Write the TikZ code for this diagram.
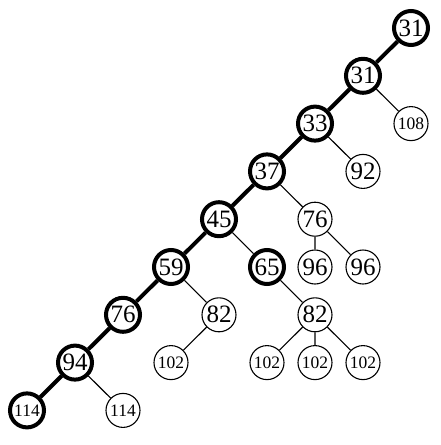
\documentclass[tikz,border=0pt]{standalone}
\usepackage{fontspec}
\setmainfont{Liberation Serif}
\begin{document}
\begin{tikzpicture}[x=1pt,y=-1pt,
  nd/.style={circle,draw,line width=1.1pt,minimum size=34pt,inner sep=0pt,font=\fontsize{25}{25}\selectfont},
  hv/.style={line width=4pt},
  sm/.style={font=\fontsize{17.5}{17.5}\selectfont},
  thin/.style={line width=1.1pt},
  thk/.style={line width=4pt}]
\useasboundingbox (0,0) rectangle (441,445);
\def\cx#1{27+48*#1}
\def\ry#1{28+47.8*#1}
\node[nd,hv] (a) at ({\cx{8}},{\ry{0}}) {31};
\node[nd,hv] (b) at ({\cx{7}},{\ry{1}}) {31};
\node[nd,sm] (c) at ({\cx{8}},{\ry{2}}) {108};
\node[nd,hv] (d) at ({\cx{6}},{\ry{2}}) {33};
\node[nd] (e) at ({\cx{7}},{\ry{3}}) {92};
\node[nd,hv] (f) at ({\cx{5}},{\ry{3}}) {37};
\node[nd] (g) at ({\cx{6}},{\ry{4}}) {76};
\node[nd,hv] (h) at ({\cx{4}},{\ry{4}}) {45};
\node[nd] (i) at ({\cx{6}},{\ry{5}}) {96};
\node[nd] (j) at ({\cx{7}},{\ry{5}}) {96};
\node[nd,hv] (k) at ({\cx{3}},{\ry{5}}) {59};
\node[nd,hv] (l) at ({\cx{5}},{\ry{5}}) {65};
\node[nd] (m) at ({\cx{4}},{\ry{6}}) {82};
\node[nd,hv] (n) at ({\cx{2}},{\ry{6}}) {76};
\node[nd] (o) at ({\cx{6}},{\ry{6}}) {82};
\node[nd,sm] (p) at ({\cx{3}},{\ry{7}}) {102};
\node[nd,hv] (q) at ({\cx{1}},{\ry{7}}) {94};
\node[nd,sm] (r) at ({\cx{5}},{\ry{7}}) {102};
\node[nd,sm] (s) at ({\cx{6}},{\ry{7}}) {102};
\node[nd,sm] (t) at ({\cx{7}},{\ry{7}}) {102};
\node[nd,hv,sm] (u) at ({\cx{0}},{\ry{8}}) {114};
\node[nd,sm] (v) at ({\cx{2}},{\ry{8}}) {114};
\draw[thk] (a)--(b) (b)--(d) (d)--(f) (f)--(h) (h)--(k) (k)--(n) (n)--(q) (q)--(u);
\draw[thin] (b)--(c) (d)--(e) (f)--(g) (g)--(i) (g)--(j) (h)--(l) (l)--(o)
  (k)--(m) (m)--(p) (o)--(r) (o)--(s) (o)--(t) (q)--(v);
\end{tikzpicture}
\end{document}
